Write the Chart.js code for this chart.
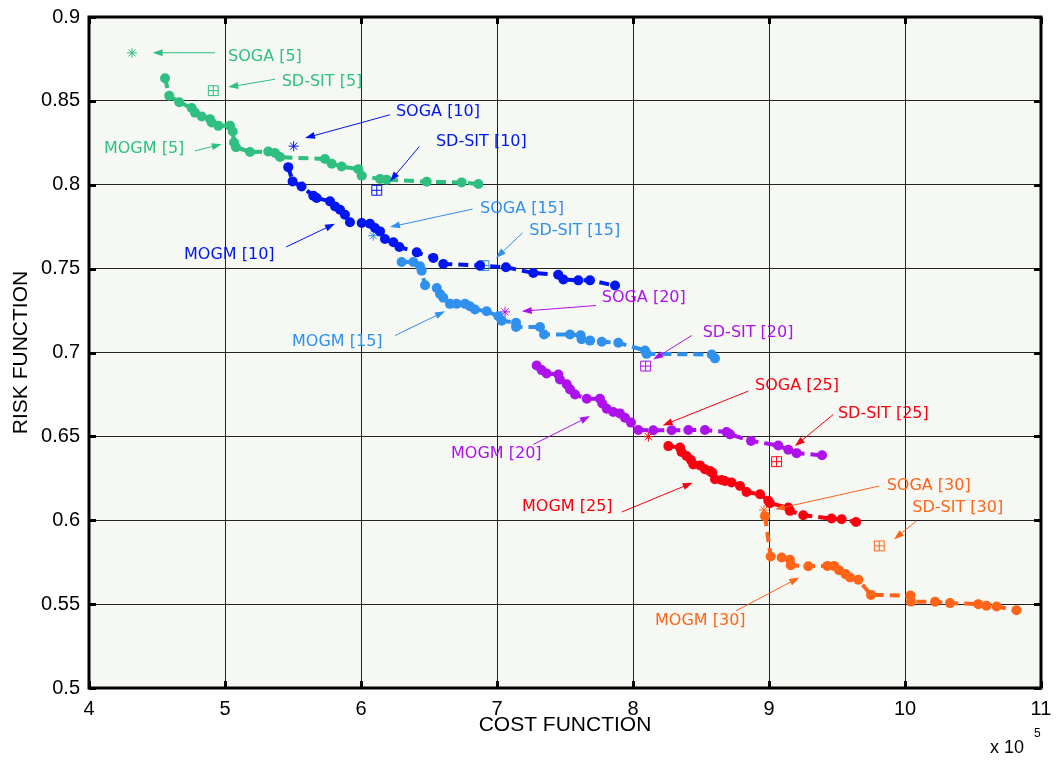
<!DOCTYPE html>
<html><head><meta charset="utf-8">
<script src="https://cdn.jsdelivr.net/npm/chart.js@4.4.1/dist/chart.umd.min.js"></script>
<style>html,body{margin:0;padding:0;background:#fff}#c{display:block}</style>
</head><body><canvas id="c" width="1058" height="760"></canvas>
<script>
// ---- tick values / labels ----
const xTicks = [4, 5, 6, 7, 8, 9, 10, 11];
const xTickLabels = ['4', '5', '6', '7', '8', '9', '10', '11'];
const yTicks = [0.5, 0.55, 0.6, 0.65, 0.7, 0.75, 0.8, 0.85, 0.9];
const yTickLabels = ['0.5', '0.55', '0.6', '0.65', '0.7', '0.75', '0.8', '0.85', '0.9'];

// ---- series (cost in units of 1e5, risk) ----
const groups = ['5', '10', '15', '20', '25', '30'];
const mogm5X = [4.559,4.590,4.664,4.755,4.779,4.829,4.890,4.902,4.951,5.037,5.057,5.066,5.081,5.184,5.318,5.368,5.404,5.735,5.785,5.858,5.980,6.005,6.140,6.189,6.483,6.740,6.863];
const mogm5Y = [0.8635,0.8530,0.8492,0.8457,0.8430,0.8407,0.8391,0.8371,0.8351,0.8351,0.8317,0.8252,0.8224,0.8195,0.8198,0.8189,0.8165,0.8153,0.8125,0.8109,0.8093,0.8054,0.8034,0.8030,0.8018,0.8014,0.8004];
const mogm10X = [5.465,5.497,5.563,5.649,5.674,5.772,5.809,5.846,5.882,5.919,6.005,6.066,6.103,6.140,6.176,6.238,6.282,6.410,6.532,6.605,6.875,7.066,7.267,7.451,7.488,7.598,7.684,7.868];
const mogm10Y = [0.8105,0.8020,0.7990,0.7935,0.7921,0.7901,0.7871,0.7851,0.7821,0.7776,0.7772,0.7768,0.7742,0.7722,0.7677,0.7657,0.7629,0.7597,0.7564,0.7528,0.7518,0.7508,0.7474,0.7464,0.7435,0.7430,0.7430,0.7399];
const mogm15X = [6.299,6.385,6.434,6.446,6.471,6.557,6.581,6.605,6.654,6.703,6.765,6.801,6.838,6.924,7.010,7.034,7.140,7.140,7.316,7.346,7.537,7.615,7.622,7.684,7.770,7.892,8.088,8.100,8.579,8.603];
const mogm15Y = [0.7540,0.7540,0.7514,0.7488,0.7401,0.7385,0.7349,0.7326,0.7290,0.7290,0.7290,0.7276,0.7256,0.7246,0.7216,0.7190,0.7177,0.7152,0.7152,0.7107,0.7107,0.7103,0.7079,0.7071,0.7064,0.7058,0.7012,0.6992,0.6988,0.6965];
const mogm20X = [7.292,7.328,7.365,7.451,7.463,7.513,7.537,7.574,7.660,7.757,7.774,7.807,7.855,7.904,7.941,7.985,8.039,8.149,8.284,8.407,8.529,8.688,8.713,8.868,9.068,9.142,9.203,9.390];
const mogm20Y = [0.6923,0.6895,0.6875,0.6869,0.6839,0.6810,0.6780,0.6750,0.6724,0.6724,0.6696,0.6665,0.6645,0.6637,0.6611,0.6582,0.6538,0.6536,0.6536,0.6538,0.6538,0.6526,0.6512,0.6473,0.6446,0.6420,0.6400,0.6387];
const mogm25X = [8.260,8.346,8.357,8.394,8.426,8.443,8.493,8.529,8.566,8.583,8.603,8.651,8.676,8.725,8.787,8.835,8.934,8.995,9.007,9.142,9.154,9.252,9.460,9.534,9.640];
const mogm25Y = [0.6442,0.6433,0.6407,0.6383,0.6359,0.6333,0.6327,0.6304,0.6293,0.6284,0.6244,0.6240,0.6234,0.6225,0.6204,0.6168,0.6155,0.6116,0.6101,0.6076,0.6056,0.6030,0.6010,0.6006,0.5990];
const mogm30X = [8.971,9.012,9.093,9.154,9.160,9.289,9.430,9.478,9.515,9.562,9.596,9.657,9.750,10.040,10.044,10.221,10.331,10.539,10.599,10.674,10.820];
const mogm30Y = [0.6024,0.5784,0.5778,0.5764,0.5732,0.5726,0.5728,0.5728,0.5702,0.5679,0.5659,0.5645,0.5555,0.5551,0.5515,0.5514,0.5506,0.5500,0.5490,0.5486,0.5464];
const sogaX = [4.316, 5.505, 6.090, 7.059, 8.113, 8.963];
const sogaY = [0.8786, 0.8230, 0.7696, 0.7242, 0.6498, 0.6061];
const sdsitX = [4.914, 6.116, 6.904, 8.093, 9.056, 9.811];
const sdsitY = [0.8561, 0.7967, 0.7518, 0.6919, 0.6349, 0.5847];

const mogmX = [mogm5X, mogm10X, mogm15X, mogm20X, mogm25X, mogm30X];
const mogmY = [mogm5Y, mogm10Y, mogm15Y, mogm20Y, mogm25Y, mogm30Y];
const colors = ['#2fbf80', '#0016ee', '#3090ee', '#ad12ec', '#f80010', '#ff6418'];

// ---- annotation layout (label anchor, arrow tail, arrow head in data units) ----
const notes = [
  {t:'SOGA [5]', g:0, tx:5.022, ty:0.8762, ax:4.926, ay:0.8787, hx:4.468, hy:0.8787},
  {t:'SD-SIT [5]', g:0, tx:5.417, ty:0.8615, ax:5.368, ay:0.8629, hx:5.024, hy:0.8582},
  {t:'MOGM [5]', g:0, tx:4.110, ty:0.8212, ax:4.779, ay:0.8202, hx:4.976, hy:0.8242},
  {t:'SOGA [10]', g:1, tx:6.257, ty:0.8436, ax:6.213, ay:0.8417, hx:5.588, hy:0.8278},
  {t:'SD-SIT [10]', g:1, tx:6.551, ty:0.8258, ax:6.429, ay:0.8228, hx:6.213, hy:0.8020},
  {t:'MOGM [10]', g:1, tx:4.699, ty:0.7583, ax:5.449, ay:0.7629, hx:5.809, hy:0.7768},
  {t:'SOGA [15]', g:2, tx:6.875, ty:0.7855, ax:6.821, ay:0.7855, hx:6.213, hy:0.7748},
  {t:'SD-SIT [15]', g:2, tx:7.238, ty:0.7728, ax:7.188, ay:0.7713, hx:6.993, hy:0.7564},
  {t:'MOGM [15]', g:2, tx:5.493, ty:0.7065, ax:6.250, ay:0.7101, hx:6.618, hy:0.7246},
  {t:'SOGA [20]', g:3, tx:7.770, ty:0.7326, ax:7.728, ay:0.7280, hx:7.182, hy:0.7246},
  {t:'SD-SIT [20]', g:3, tx:8.512, ty:0.7119, ax:8.431, ay:0.7101, hx:8.149, hy:0.6958},
  {t:'MOGM [20]', g:3, tx:6.662, ty:0.6393, ax:7.267, ay:0.6452, hx:7.684, hy:0.6621},
  {t:'SOGA [25]', g:4, tx:8.897, ty:0.6799, ax:8.848, ay:0.6770, hx:8.218, hy:0.6565},
  {t:'SD-SIT [25]', g:4, tx:9.507, ty:0.6637, ax:9.473, ay:0.6631, hx:9.191, hy:0.6442},
  {t:'MOGM [25]', g:4, tx:7.184, ty:0.6077, ax:7.917, ay:0.6049, hx:8.439, hy:0.6224},
  {t:'SOGA [30]', g:5, tx:9.865, ty:0.6208, ax:9.811, ay:0.6204, hx:9.044, hy:0.6065},
  {t:'SD-SIT [30]', g:5, tx:10.054, ty:0.6076, ax:10.085, ay:0.5996, hx:9.919, hy:0.5887},
  {t:'MOGM [30]', g:5, tx:8.162, ty:0.5400, ax:8.757, ay:0.5460, hx:9.223, hy:0.5659}
];

const pts = (xs, ys) => xs.map((x, i) => ({x: x, y: ys[i]}));

const datasets = [];
groups.forEach((g, i) => {
  datasets.push({
    label: 'MOGM [' + g + ']', data: pts(mogmX[i], mogmY[i]), showLine: true,
    borderColor: colors[i], backgroundColor: colors[i], borderWidth: 4, borderDash: [10, 6],
    pointRadius: 5, pointBorderWidth: 0, pointBackgroundColor: colors[i]
  });
  datasets.push({
    label: 'SOGA [' + g + ']', data: [{x: sogaX[i], y: sogaY[i]}], showLine: false,
    pointStyle: 'star', pointRadius: 5, borderWidth: 1, borderColor: colors[i], backgroundColor: colors[i]
  });
  datasets.push({
    label: 'SD-SIT [' + g + ']', data: [{x: sdsitX[i], y: sdsitY[i]}], showLine: false,
    pointStyle: 'rect', pointRadius: 7, borderWidth: 1, borderColor: colors[i], backgroundColor: 'rgba(0,0,0,0)'
  });
  datasets.push({
    label: 'SD-SIT [' + g + '] +', data: [{x: sdsitX[i], y: sdsitY[i]}], showLine: false,
    pointStyle: 'cross', pointRadius: 5, borderWidth: 1, borderColor: colors[i], backgroundColor: colors[i]
  });
});

function arrow(ctx, x1, y1, x2, y2, col) {
  const a = Math.atan2(y2 - y1, x2 - x1), L = 10, W = 3.5;
  const c = Math.cos(a), s = Math.sin(a);
  ctx.strokeStyle = col; ctx.fillStyle = col; ctx.lineWidth = 1;
  ctx.beginPath(); ctx.moveTo(x1, y1); ctx.lineTo(x2 - L * c * 0.8, y2 - L * s * 0.8); ctx.stroke();
  ctx.beginPath(); ctx.moveTo(x2, y2);
  ctx.lineTo(x2 - L * c + W * s, y2 - L * s - W * c);
  ctx.lineTo(x2 - L * c - W * s, y2 - L * s + W * c);
  ctx.closePath(); ctx.fill();
}

const deco = {
  id: 'deco',
  beforeDraw(chart) {
    const {ctx, chartArea: a} = chart;
    ctx.save(); ctx.fillStyle = '#f6f8f4';
    ctx.fillRect(a.left, a.top, a.right - a.left, a.bottom - a.top); ctx.restore();
  },
  afterDatasetsDraw(chart) {
    const {ctx, scales: {x, y}} = chart;
    ctx.save();
    ctx.font = '16px "DejaVu Sans"'; ctx.textAlign = 'left'; ctx.textBaseline = 'middle';
    notes.forEach(n => {
      const col = colors[n.g];
      ctx.fillStyle = col;
      ctx.fillText(n.t, x.getPixelForValue(n.tx), y.getPixelForValue(n.ty));
      arrow(ctx, x.getPixelForValue(n.ax), y.getPixelForValue(n.ay), x.getPixelForValue(n.hx), y.getPixelForValue(n.hy), col);
    });
    ctx.restore();
  },
  afterDraw(chart) {
    const {ctx, chartArea: a, scales: {x, y}} = chart;
    ctx.save();
    ctx.strokeStyle = '#000'; ctx.lineWidth = 3;
    ctx.strokeRect(a.left, a.top, a.right - a.left, a.bottom - a.top);
    ctx.lineWidth = 3; const T = 7;
    ctx.beginPath();
    xTicks.forEach(v => { const p = Math.round(x.getPixelForValue(v)) + 0.5;
      ctx.moveTo(p, a.bottom); ctx.lineTo(p, a.bottom - T); ctx.moveTo(p, a.top); ctx.lineTo(p, a.top + T); });
    yTicks.forEach(v => { const p = Math.round(y.getPixelForValue(v)) + 0.5;
      ctx.moveTo(a.left, p); ctx.lineTo(a.left + T, p); ctx.moveTo(a.right, p); ctx.lineTo(a.right - T, p); });
    ctx.stroke();
    ctx.fillStyle = '#000'; ctx.textBaseline = 'alphabetic'; ctx.textAlign = 'left';
    ctx.font = '18px "Liberation Sans"'; ctx.fillText('x 10', 990, 753);
    ctx.font = '12px "Liberation Sans"'; ctx.fillText('5', 1034, 737);
    ctx.restore();
  }
};

new Chart(document.getElementById('c'), {
  type: 'scatter',
  data: {datasets: datasets},
  plugins: [deco],
  options: {
    responsive: false, animation: false, devicePixelRatio: 1,
    layout: {padding: {top: 17, right: 17, left: 0, bottom: 0}},
    plugins: {legend: {display: false}, tooltip: {enabled: false}},
    scales: {
      x: {
        type: 'linear', min: 4, max: 11,
        afterBuildTicks: ax => { ax.ticks = xTicks.map(v => ({value: v})); },
        afterFit: ax => { ax.height = 72; ax.paddingLeft = 0; ax.paddingRight = 0; },
        ticks: {callback: (v, i) => xTickLabels[i], color: '#000', padding: 9, maxRotation: 0,
                font: {family: 'Liberation Sans', size: 20}},
        grid: {color: '#222', lineWidth: 1, drawTicks: false},
        border: {display: false},
        title: {display: true, text: 'COST FUNCTION', color: '#000', padding: {top: 0, bottom: 22},
                font: {family: 'Liberation Sans', size: 21}}
      },
      y: {
        type: 'linear', min: 0.5, max: 0.9,
        afterBuildTicks: ax => { ax.ticks = yTicks.map(v => ({value: v})); },
        afterFit: ax => { ax.width = 89; ax.paddingTop = 0; ax.paddingBottom = 0; },
        ticks: {callback: (v, i) => yTickLabels[i], color: '#000', padding: 9,
                font: {family: 'Liberation Sans', size: 20}},
        grid: {color: '#222', lineWidth: 1, drawTicks: false},
        border: {display: false},
        title: {display: true, text: 'RISK FUNCTION', color: '#000', padding: {top: 9, bottom: 0},
                font: {family: 'Liberation Sans', size: 21}}
      }
    }
  }
});
</script>
</body></html>
